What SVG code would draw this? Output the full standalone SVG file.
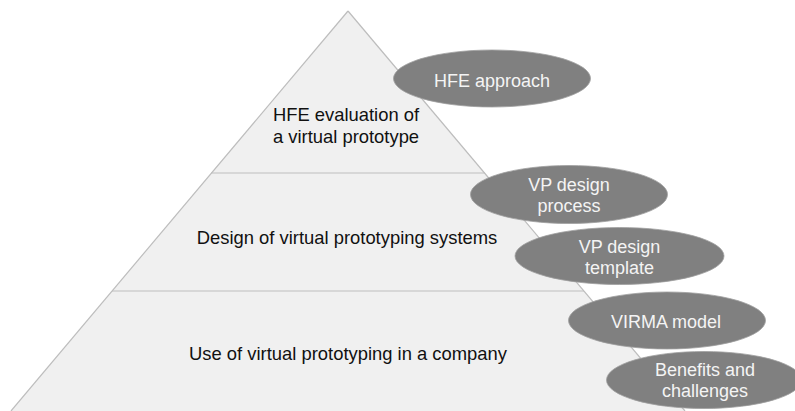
<svg xmlns="http://www.w3.org/2000/svg" width="795" height="411" viewBox="0 0 795 411">
  <style>
    .tier { fill: #f0f0f0; stroke: none; }
    .edge { stroke: #bdbdbd; stroke-width: 1.2; fill: none; }
    .label { font-family: "Liberation Sans", Arial, sans-serif; font-size: 18.4px; fill: #111; text-anchor: middle; }
    .pill { fill: #808080; stroke: #a0a0a0; stroke-width: 0.8; }
    .pill-text { font-family: "Liberation Sans", Arial, sans-serif; font-size: 18px; fill: #f4f4f4; text-anchor: middle; }
  </style>
  <rect width="795" height="411" fill="#ffffff"/>

  <!-- pyramid tiers -->
  <g id="tier-top">
    <polygon class="tier" points="348,11 211,173 485,173"/>
    <text class="label" x="346" y="120.5">HFE evaluation of</text>
    <text class="label" x="346" y="143">a virtual prototype</text>
  </g>
  <g id="tier-middle">
    <polygon class="tier" points="211,173 485,173 584,291 112,291"/>
    <text class="label" x="347" y="244">Design of virtual prototyping systems</text>
  </g>
  <g id="tier-bottom">
    <polygon class="tier" points="112,291 584,291 685,411 11,411"/>
    <text class="label" x="348" y="360">Use of virtual prototyping in a company</text>
  </g>

  <!-- outlines and tier dividers -->
  <g id="connectors">
    <line class="edge" x1="348" y1="11" x2="11" y2="411"/>
    <line class="edge" x1="348" y1="11" x2="685" y2="411"/>
    <line class="edge" x1="211" y1="173" x2="485" y2="173"/>
    <line class="edge" x1="112" y1="291" x2="584" y2="291"/>
  </g>

  <!-- topic ovals -->
  <g id="hfe-approach">
    <ellipse class="pill" cx="492" cy="78.5" rx="98.5" ry="28.5"/>
    <text class="pill-text" x="492" y="86.5">HFE approach</text>
  </g>
  <g id="vp-design-process">
    <ellipse class="pill" cx="569" cy="194.5" rx="98.5" ry="29"/>
    <text class="pill-text" x="569" y="191">VP design</text>
    <text class="pill-text" x="569" y="212">process</text>
  </g>
  <g id="vp-design-template">
    <ellipse class="pill" cx="619.5" cy="256" rx="104.5" ry="28.5"/>
    <text class="pill-text" x="619.5" y="253">VP design</text>
    <text class="pill-text" x="619.5" y="274">template</text>
  </g>
  <g id="virma-model">
    <ellipse class="pill" cx="667" cy="320.5" rx="98.5" ry="28.5"/>
    <text class="pill-text" x="666" y="327.5">VIRMA model</text>
  </g>
  <g id="benefits-challenges">
    <ellipse class="pill" cx="704" cy="380" rx="97.5" ry="28.5"/>
    <text class="pill-text" x="705" y="375.5">Benefits and</text>
    <text class="pill-text" x="705" y="396.5">challenges</text>
  </g>
</svg>
